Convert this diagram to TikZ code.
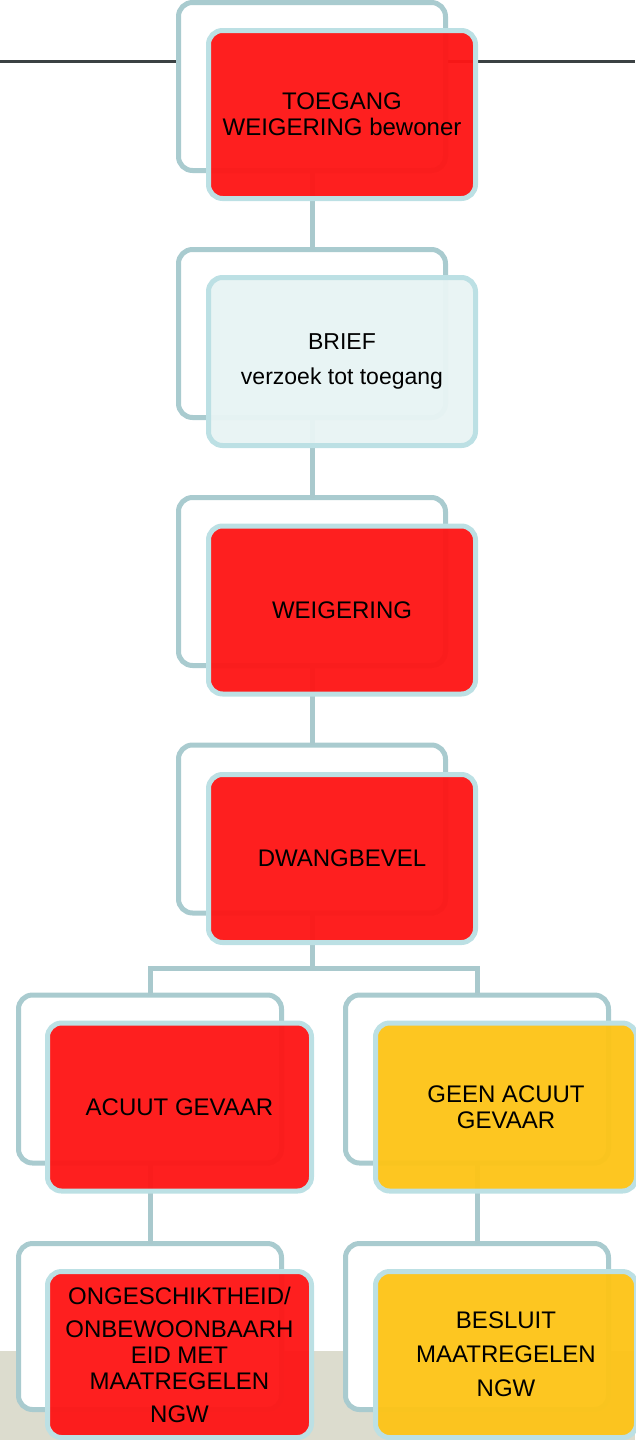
\documentclass[tikz,border=0pt]{standalone}
\usepackage{fontspec}
\setmainfont{Liberation Sans}
\definecolor{backc}{RGB}{169,203,207}
\definecolor{frontc}{RGB}{188,224,228}
\definecolor{connc}{RGB}{169,201,205}
\definecolor{redf}{RGB}{254,22,22}
\definecolor{yelf}{RGB}{253,196,24}
\definecolor{lightf}{RGB}{232,244,244}
\definecolor{beige}{RGB}{220,220,206}
\definecolor{topline}{RGB}{59,65,67}
\newcommand\fsA{\fontsize{24}{26}\selectfont}
\newcommand\fsB{\fontsize{23}{26}\selectfont}
\begin{document}
\begin{tikzpicture}[x=1pt,y=-1pt,
  backframe/.style={draw=backc, fill=white, line width=5pt, rounded corners=14pt, inner sep=0pt, outer sep=0pt, minimum height=168pt},
  frontbox/.style={draw=frontc, line width=5pt, rounded corners=14pt, fill opacity=0.96, text opacity=1, draw opacity=1, inner sep=0pt, outer sep=0pt, minimum height=168pt, align=center, font=\fsA},
  widebox/.style={minimum width=267pt},
  narrowbox/.style={minimum width=263pt},
  conn/.style={draw=connc, line width=5pt}]
\useasboundingbox (0,0) rectangle (635,1440);
% background
\fill[beige] (0,1351) rectangle (635,1440);
\draw[topline, line width=3pt] (0,61.5) -- (635,61.5);
% back frames
\node[backframe, widebox] (b1) at (312,86.5) {};
\node[backframe, widebox] (b2) at (312,333.5) {};
\node[backframe, widebox] (b3) at (312,581.5) {};
\node[backframe, widebox] (b4) at (312,829) {};
\node[backframe, narrowbox] (b5l) at (150,1079) {};
\node[backframe, narrowbox] (b5r) at (477,1079) {};
\node[backframe, narrowbox, minimum height=166pt] (b6l) at (150,1326.5) {};
\node[backframe, narrowbox, minimum height=166pt] (b6r) at (477,1326.5) {};
% connectors
\draw[conn] (b1.south) -- (b2.north);
\draw[conn] (b2.south) -- (b3.north);
\draw[conn] (b3.south) -- (b4.north);
\coordinate (br) at (312,968);
\draw[conn] (b4.south) -- (br);
\draw[conn] (b5l.north) |- (br) -| (b5r.north);
\draw[conn] (b5l.south) -- (b6l.north);
\draw[conn] (b5r.south) -- (b6r.north);
% front boxes
\node[frontbox, widebox, fill=redf] (f1) at (342,114.5) {TOEGANG\\WEIGERING bewoner};
\node[frontbox, widebox, fill=lightf, font=\fsB] (f2) at (342,361.5) {BRIEF\\[9pt]verzoek tot toegang};
\node[frontbox, widebox, fill=redf] (f3) at (342,610) {WEIGERING};
\node[frontbox, widebox, fill=redf] (f4) at (342,858.5) {DWANGBEVEL};
\node[frontbox, minimum width=264pt, fill=redf] (f5l) at (179.5,1107) {ACUUT GEVAAR};
\node[frontbox, minimum width=261pt, fill=yelf] (f5r) at (506,1107) {GEEN ACUUT\\GEVAAR};
\node[frontbox, minimum width=264pt, minimum height=166pt, fill=redf] (f6l) at (179.5,1354.5) {ONGESCHIKTHEID/\\[7pt]ONBEWOONBAARH\\EID MET\\MAATREGELEN\\[7pt]NGW};
\node[frontbox, minimum width=261pt, minimum height=166pt, fill=yelf] (f6r) at (506,1354.5) {BESLUIT\\[8pt]MAATREGELEN\\[8pt]NGW};
\end{tikzpicture}
\end{document}
